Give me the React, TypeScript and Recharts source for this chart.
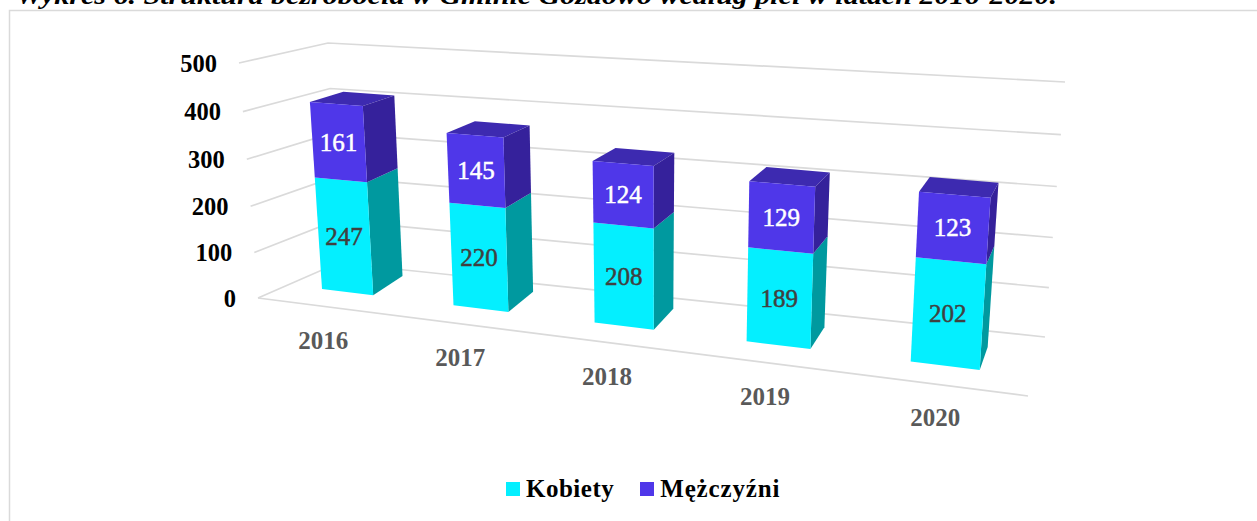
import React from "react";
import { BarChart, Bar, XAxis, YAxis, CartesianGrid, Legend, LabelList } from "recharts";

const years = ["2016", "2017", "2018", "2019", "2020"];
const kobiety = [247, 220, 208, 189, 202];
const mezczyzni = [161, 145, 124, 129, 123];
const yTicks = [0, 100, 200, 300, 400, 500];
const title = "Wykres 6. Struktura bezrobocia w Gminie Gozdowo według płci w latach 2016-2020.";
const rows = years.map((year, i) => ({ year, kobiety: kobiety[i], mezczyzni: mezczyzni[i] }));

const W = 1257;
const H = 521;
const PW = W - 1;
const PH = H - 1;
const FONT = "'Liberation Serif', serif";
const MAX = 500;
const CYAN = "#04EFFF";
const CYAN_SIDE = "#00999F";
const PURPLE = "#4F37E9";
const PURPLE_SIDE = "#35219B";
const PURPLE_TOP = "#3D2AB0";
const GRID = "#DADADA";

type P = [number, number];
function makeHomography(p0: P, p1: P, p2: P, p3: P) {
  const dx1 = p1[0] - p2[0], dx2 = p3[0] - p2[0], dx3 = p0[0] - p1[0] + p2[0] - p3[0];
  const dy1 = p1[1] - p2[1], dy2 = p3[1] - p2[1], dy3 = p0[1] - p1[1] + p2[1] - p3[1];
  const den = dx1 * dy2 - dx2 * dy1;
  const g = (dx3 * dy2 - dx2 * dy3) / den;
  const h = (dx1 * dy3 - dx3 * dy1) / den;
  const a = p1[0] - p0[0] + g * p1[0], b = p3[0] - p0[0] + h * p3[0], c = p0[0];
  const d = p1[1] - p0[1] + g * p1[1], e = p3[1] - p0[1] + h * p3[1], f = p0[1];
  return (u: number, v: number): P => {
    const w = g * u + h * v + 1;
    return [(a * u + b * v + c) / w, (d * u + e * v + f) / w];
  };
}
const front = makeHomography([322, 289], [980, 370], [997, 100], [307, 58]);
const rear = makeHomography([353, 270], [988, 347], [1005, 90], [341, 50]);
const WALL_K = 0.04;
const wallT = (v: number) => (v * (1 - WALL_K)) / (1 - WALL_K * v);
const lerp = (a: P, b: P, t: number): P => [a[0] + (b[0] - a[0]) * t, a[1] + (b[1] - a[1]) * t];
const wallFront = (v: number) => lerp([258, 298], [239, 63], wallT(v));
const wallBackL = (v: number) => lerp([338, 263], [328, 43], wallT(v));
const wallBackR = (v: number) => lerp([1045, 337], [1065, 82], wallT(v));
const floorFrontR: P = [1028, 396];

const GAP = 0.3;
const ua = 1 + (PW / years.length) * GAP;
const ub = W - (PW / years.length) * GAP;
const toU = (x: number) => (x - ua) / (ub - ua);
const toV = (y: number) => (PH - y) / PH;
const poly = (pts: P[]) => pts.map((p) => `${p[0].toFixed(1)},${p[1].toFixed(1)}`).join(" ");

function makeShape(faceFill: string, sideFill: string, withTop: boolean) {
  return (props: any) => {
    const { x, y, width, height } = props;
    const u0 = toU(x), u1 = toU(x + width), vb = toV(y + height), vt = toV(y);
    return (
      <g>
        {withTop && <polygon points={poly([front(u0, vt), front(u1, vt), rear(u1, vt), rear(u0, vt)])} fill={PURPLE_TOP} />}
        <polygon points={poly([front(u1, vb), front(u1, vt), rear(u1, vt), rear(u1, vb)])} fill={sideFill} />
        <polygon points={poly([front(u0, vb), front(u1, vb), front(u1, vt), front(u0, vt)])} fill={faceFill} />
      </g>
    );
  };
}

function makeLabel(color: string) {
  return (props: any) => {
    const { x, y, width, height, value } = props;
    const [cx, cy] = front(toU(x + width / 2), toV(y + height / 2));
    return (
      <text x={cx} y={cy} textAnchor="middle" dominantBaseline="central" fontFamily={FONT} fontSize={25}
        fill={color} stroke={color} strokeWidth={0.5}>{value}</text>
    );
  };
}

const gridLine = (props: any) => {
  const v = toV(props.y1);
  const a = wallFront(v), b = wallBackL(v), c = wallBackR(v);
  return (
    <g key={props.key ?? props.index}>
      <polyline points={poly([a, b, c])} fill="none" stroke={GRID} strokeWidth={1.7} />
      {v < 0.001 && <polyline points={poly([a, floorFrontR])} fill="none" stroke={GRID} strokeWidth={1.7} />}
    </g>
  );
};

const YTick = (props: any) => {
  const p = wallFront(props.payload.value / MAX);
  return (
    <text x={p[0] - 22} y={p[1]} textAnchor="end" dominantBaseline="central" fontFamily={FONT} fontWeight="bold"
      fontSize={24.5} fill="#000">{props.payload.value}</text>
  );
};

const XTick = (props: any) => {
  const u = toU(props.x);
  const p = front(u, 0);
  return (
    <text x={p[0] - 25 + 16 * u} y={p[1] + 48 + 4 * u} textAnchor="middle" dominantBaseline="central" fontFamily={FONT}
      fontWeight="bold" fontSize={25} fill="#595959">{props.payload.value}</text>
  );
};

const legendContent = (props: any) => (
  <div style={{ display: "flex", alignItems: "center", fontFamily: FONT, fontWeight: "bold", fontSize: 25, color: "#000", lineHeight: "28px", whiteSpace: "nowrap" }}>
    {props.payload.map((e: any, i: number) => (
      <span key={e.value} style={{ display: "flex", alignItems: "center", marginLeft: i ? 26 : 0, letterSpacing: i ? 0.85 : 0.5 }}>
        <span style={{ width: 14, height: 14, background: e.color, marginRight: 6, display: "inline-block" }} />
        {e.value}
      </span>
    ))}
  </div>
);

export default function App() {
  return (
    <div style={{ position: "absolute", left: 0, top: 0, width: W, height: H, overflow: "hidden", background: "#fff" }}>
      <svg width={W} height={H} style={{ position: "absolute", left: 0, top: 0 }}>
        <text x={16} y={4} fontFamily={FONT} fontWeight="bold" fontStyle="italic" fontSize={25} fill="#000" textLength={1041} lengthAdjust="spacingAndGlyphs">{title}</text>
        <polyline points={`9.5,${H} 9.5,10.5 ${W},10.5`} fill="none" stroke="#DADADA" strokeWidth={1.5} />
      </svg>
      <div style={{ position: "absolute", left: 0, top: 0 }}>
        <BarChart width={W} height={H} data={rows} margin={{ top: 0, right: 0, bottom: 0, left: 0 }} barCategoryGap={`${GAP * 100}%`} style={{ overflow: "visible" }}>
          <CartesianGrid vertical={false} horizontal={gridLine} />
          <XAxis dataKey="year" height={1} axisLine={false} tickLine={false} interval={0} tick={XTick} />
          <YAxis width={1} domain={[0, MAX]} ticks={yTicks} axisLine={false} tickLine={false} interval={0} tick={YTick} />
          <Legend layout="horizontal" verticalAlign="middle" align="center" content={legendContent}
            wrapperStyle={{ position: "absolute", left: 506, top: 475, width: "auto", bottom: "auto", right: "auto" }} />
          <Bar dataKey="kobiety" name="Kobiety" stackId="a" fill={CYAN} isAnimationActive={false} shape={makeShape(CYAN, CYAN_SIDE, false)}>
            <LabelList dataKey="kobiety" content={makeLabel("#404040")} />
          </Bar>
          <Bar dataKey="mezczyzni" name="Mężczyźni" stackId="a" fill={PURPLE} isAnimationActive={false} shape={makeShape(PURPLE, PURPLE_SIDE, true)}>
            <LabelList dataKey="mezczyzni" content={makeLabel("#FFFFFF")} />
          </Bar>
        </BarChart>
      </div>
    </div>
  );
}
